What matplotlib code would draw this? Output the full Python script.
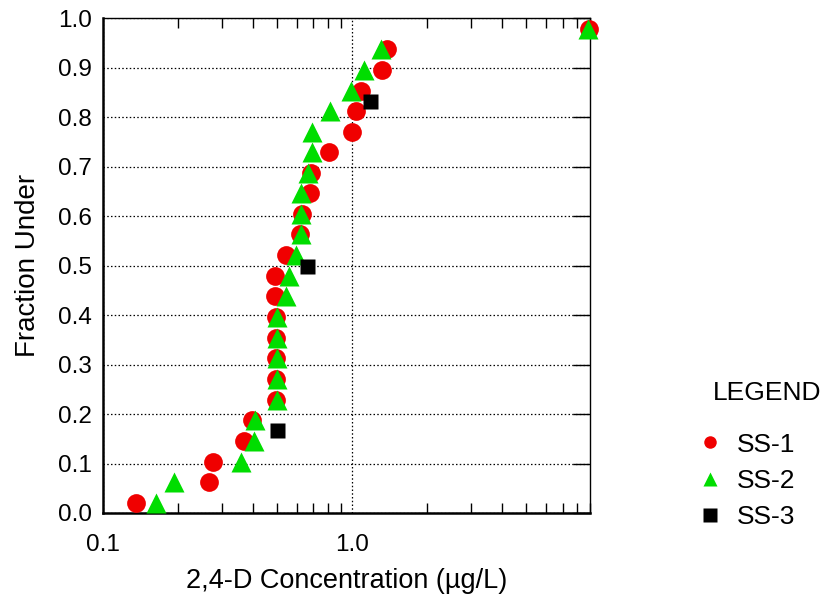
import matplotlib
matplotlib.use('Agg')
import matplotlib.pyplot as plt
from matplotlib.ticker import FixedLocator, FixedFormatter, NullFormatter
from matplotlib.lines import Line2D

# data (concentration in ug/L, plotting position)
ss1_conc = [0.136, 0.267, 0.277, 0.368, 0.397, 0.495, 0.495, 0.495, 0.495, 0.495,
            0.493, 0.493, 0.542, 0.617, 0.632, 0.676, 0.683, 0.809, 1.0, 1.034,
            1.09, 1.323, 1.386, 8.88]
ss1_frac = [0.021, 0.063, 0.104, 0.146, 0.188, 0.229, 0.271, 0.313, 0.354, 0.396,
            0.438, 0.479, 0.521, 0.563, 0.604, 0.646, 0.688, 0.729, 0.771, 0.813,
            0.854, 0.896, 0.938, 0.979]

ss2_conc = [0.163, 0.193, 0.360, 0.406, 0.410, 0.499, 0.499, 0.499, 0.499, 0.499,
            0.544, 0.560, 0.598, 0.625, 0.625, 0.625, 0.664, 0.693, 0.693, 0.819,
            0.988, 1.117, 1.303, 8.83]
ss2_frac = [0.021, 0.063, 0.104, 0.146, 0.188, 0.229, 0.271, 0.313, 0.354, 0.396,
            0.438, 0.479, 0.521, 0.563, 0.604, 0.646, 0.688, 0.729, 0.771, 0.813,
            0.854, 0.896, 0.938, 0.979]

ss3_conc = [0.499, 0.658, 1.184]
ss3_frac = [0.167, 0.5, 0.833]

series_names = ['SS-1', 'SS-2', 'SS-3']
x_ticks = [0.1, 1.0]
x_tick_labels = ['0.1', '1.0']
y_ticks = [0.0, 0.1, 0.2, 0.3, 0.4, 0.5, 0.6, 0.7, 0.8, 0.9, 1.0]

RED = '#f00000'
GREEN = '#00dd00'


def main():
    plt.rcParams['font.family'] = ['Liberation Sans', 'DejaVu Sans']
    fig = plt.figure(figsize=(8.28, 5.96), dpi=100)
    ax = fig.add_axes([0.124, 0.1393, 0.5886, 0.83])

    ax.plot(ss1_conc, ss1_frac, 'o', color=RED, ms=13.5, mec='none', clip_on=False, zorder=3)
    ax.plot(ss2_conc, ss2_frac, '^', color=GREEN, ms=14.4, mec='none', clip_on=False, zorder=4)
    ax.plot(ss3_conc, ss3_frac, 's', color='black', ms=10.8, mec='none', clip_on=False, zorder=5)

    ax.set_xscale('log')
    ax.set_xlim(0.1, 9)
    ax.set_ylim(0, 1)

    ax.xaxis.set_major_locator(FixedLocator(x_ticks))
    ax.xaxis.set_major_formatter(FixedFormatter(x_tick_labels))
    ax.xaxis.set_minor_formatter(NullFormatter())
    ax.yaxis.set_major_locator(FixedLocator(y_ticks))
    ax.yaxis.set_major_formatter(plt.FormatStrFormatter('%.1f'))

    ax.grid(True, which='major', color='black', linestyle=(0, (1.2, 1.8)), linewidth=0.9)
    ax.tick_params(axis='both', which='both', direction='in', top=True, right=True,
                   left=False, labelsize=17.5, colors='black')
    ax.tick_params(axis='y', which='major', length=12, width=1, pad=8)
    ax.tick_params(axis='x', which='major', length=0, pad=15)
    ax.tick_params(axis='x', which='minor', length=7, width=1)

    for side in ['left', 'bottom']:
        ax.spines[side].set_linewidth(1.8)
    for side in ['top', 'right']:
        ax.spines[side].set_linewidth(1.0)

    ax.set_xlabel('2,4-D Concentration (µg/L)', fontsize=19.5, labelpad=9)
    ax.set_ylabel('Fraction Under', fontsize=20, labelpad=12)

    handles = [
        Line2D([], [], marker='o', color=RED, ls='none', ms=9, mec='none'),
        Line2D([], [], marker='^', color=GREEN, ls='none', ms=10, mec='none'),
        Line2D([], [], marker='s', color='black', ls='none', ms=9.5, mec='none'),
    ]
    fig.text(713 / 828, 1 - 393 / 596, 'LEGEND', fontsize=19, ha='left', va='center')
    fig.legend(handles, series_names, loc='upper left', bbox_to_anchor=(0.845, 0.274),
               frameon=False, fontsize=19, handlelength=0.8, handletextpad=0.6,
               labelspacing=0.46, borderpad=0, borderaxespad=0)

    fig.savefig('out.png', dpi=100)


if __name__ == '__main__':
    main()
